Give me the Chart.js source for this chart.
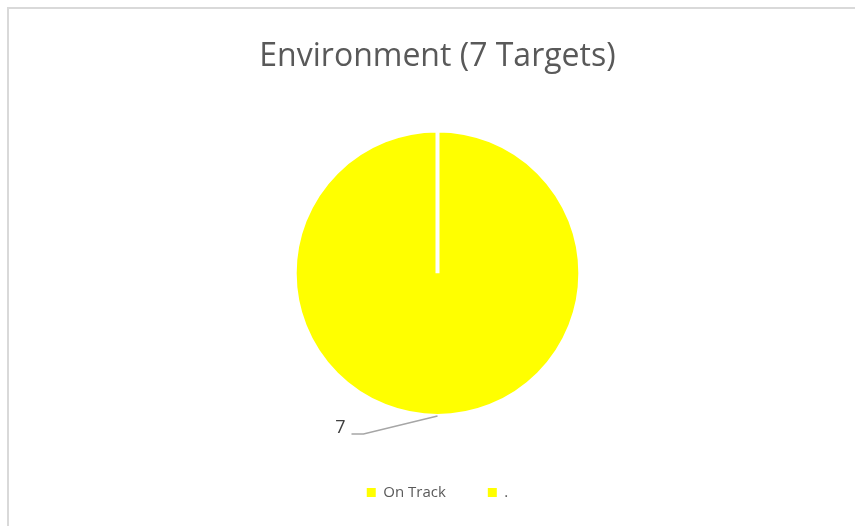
<!DOCTYPE html>
<html>
<head>
<meta charset="utf-8">
<script src="https://cdn.jsdelivr.net/npm/chart.js@4.4.0/dist/chart.umd.min.js"></script>
<style>
    html, body { margin: 0; padding: 0; background: #fff; }
    body { width: 855px; height: 526px; position: relative; overflow: hidden; }
    #frame {
        position: absolute; left: 7px; top: 7px; width: 900px; height: 600px;
        border: 2px solid #d9d9d9; box-sizing: border-box;
    }
    #wrap { position: absolute; left: 0; top: 0; width: 855px; height: 526px; }
</style>
</head>
<body>
<div id="frame"></div>
<div id="wrap"><canvas id="envPie"></canvas></div>
<script>
// data
const categories = ['On Track', '.'];
const targetCounts = [7, 0];
const sliceColors = ['#ffff00', '#ffff00'];
const chartTitle = 'Environment (7 Targets)';

const FONT = "'Open Sans', 'Liberation Sans', sans-serif";

// label + leader line for the non-zero slice
const sliceLabels = {
    id: 'sliceLabels',
    afterDatasetsDraw(chart) {
        const ctx = chart.ctx;
        const meta = chart.getDatasetMeta(0);
        meta.data.forEach((arc, i) => {
            const val = targetCounts[i];
            if (!val) return;
            const p = arc.getProps(['x', 'y', 'startAngle', 'endAngle', 'outerRadius'], true);
            const mid = (p.startAngle + p.endAngle) / 2;
            const sx = p.x + Math.cos(mid) * p.outerRadius;
            const sy = p.y + Math.sin(mid) * p.outerRadius;
            const ex = sx - 74, ey = sy + 18;
            ctx.save();
            ctx.strokeStyle = '#a6a6a6';
            ctx.lineWidth = 1.5;
            ctx.beginPath();
            ctx.moveTo(sx, sy);
            ctx.lineTo(ex, ey);
            ctx.lineTo(ex - 12, ey);
            ctx.stroke();
            ctx.fillStyle = '#404040';
            ctx.font = '18px ' + FONT;
            ctx.textAlign = 'right';
            ctx.textBaseline = 'middle';
            ctx.fillText(String(val), ex - 18, ey - 6);
            ctx.restore();
        });
    }
};

new Chart(document.getElementById('envPie'), {
    type: 'pie',
    data: {
        labels: categories,
        datasets: [{
            data: targetCounts,
            backgroundColor: sliceColors,
            borderColor: '#ffffff',
            borderWidth: 4,
            borderJoinStyle: 'miter'
        }]
    },
    options: {
        responsive: true,
        maintainAspectRatio: false,
        animation: false,
        layout: { padding: { top: 0, bottom: 16, left: 20, right: 0 } },
        plugins: {
            title: {
                display: true,
                text: chartTitle,
                color: '#595959',
                font: { family: FONT, size: 32, weight: 'normal' },
                padding: { top: 38, bottom: 52 }
            },
            legend: {
                position: 'bottom',
                title: {
                    display: true,
                    text: ' ',
                    font: { size: 10 },
                    padding: { top: 0, bottom: 13 }
                },
                labels: {
                    color: '#595959',
                    font: { family: FONT, size: 15 },
                    boxWidth: 9,
                    boxHeight: 9,
                    padding: 42,
                    generateLabels(chart) {
                        const items = Chart.overrides.pie.plugins.legend.labels.generateLabels(chart);
                        items.forEach(it => { it.lineWidth = 0; it.strokeStyle = it.fillStyle; });
                        return items;
                    }
                }
            },
            tooltip: { enabled: false }
        }
    },
    plugins: [sliceLabels]
});
</script>
</body>
</html>
